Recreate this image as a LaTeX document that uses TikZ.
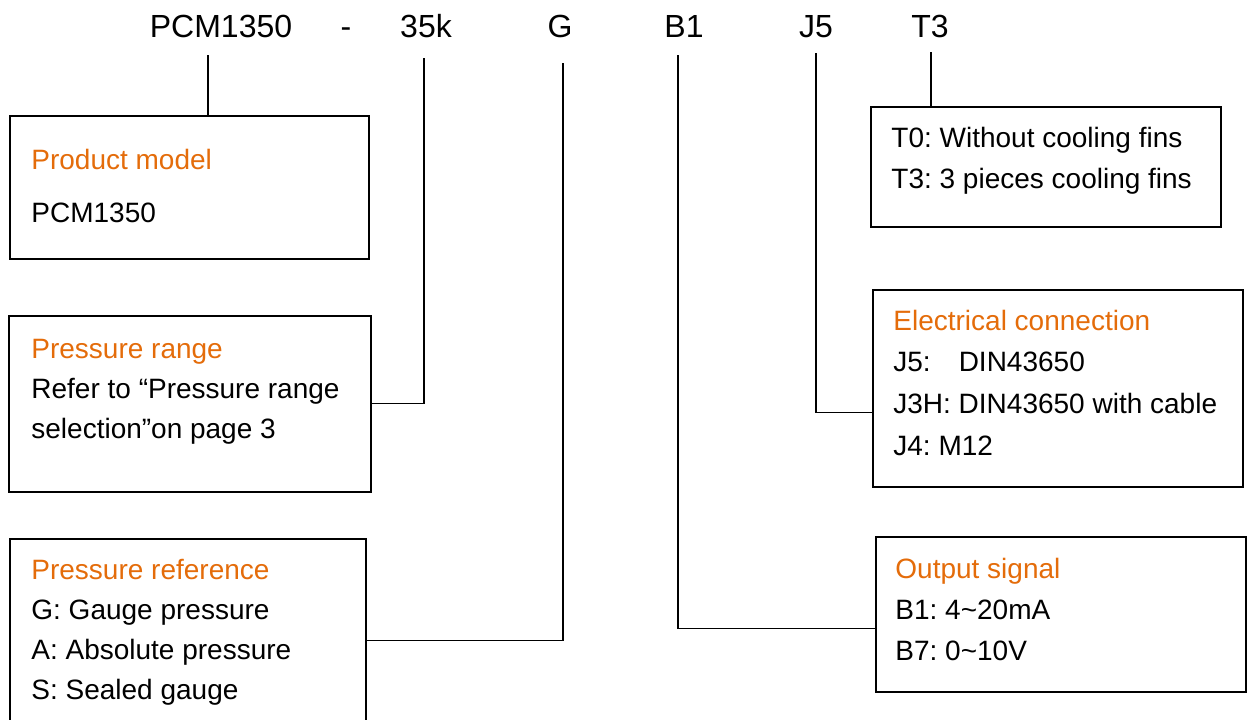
\documentclass[tikz,border=0pt]{standalone}
\usepackage{fontspec}
\setmainfont{Liberation Sans}
\frenchspacing
\usepackage{tikz}
\usetikzlibrary{calc,positioning}
\definecolor{titleorange}{RGB}{228,108,10}
\newcommand{\ttl}{\textcolor{titleorange}}
\tikzset{
  box/.style={draw,line width=0.75pt,rectangle,anchor=north west,inner sep=0pt},
  head/.style={anchor=base,inner sep=0pt,font=\fontsize{16pt}{19pt}\selectfont},
  txt/.style={anchor=base west,inner sep=0pt,align=left,font=\fontsize{14pt}{20pt}\selectfont},
  link/.style={line width=0.6pt}
}

\begin{document}
\begin{tikzpicture}[x=0.5pt,y=-0.5pt]
    \useasboundingbox (0,0) rectangle (1251,719);
    \clip (0,0) rectangle (1251,719);

    \node (hPCM) at (221,37) [head]{PCM1350};
    \node (hDash) at (346,37) [head]{-};
    \node (h35k) at (426,37) [head]{35k};
    \node (hG) at (560,37) [head]{G};
    \node (hB1) at (684,37) [head]{B1};
    \node (hJ5) at (816,37) [head]{J5};
    \node (hT3) at (930,37) [head]{T3};

    \coordinate (cPCM) at (208,55);
    \coordinate (c35k) at (424,58);
    \coordinate (cG) at (563,63);
    \coordinate (cB1) at (678,55);
    \coordinate (cJ5) at (816,53);
    \coordinate (cT3) at (931,52);

    % base of each text block = baseline of its last line
    \node (model) at (9,115) [box,minimum width=179.5pt,minimum height=71.5pt]{};
    \node (modeltxt) at (31,222) [txt]{
      \ttl{Product model}\\[6.5pt]
      PCM1350
    };

    \node (range) at (8,315) [box,minimum width=181pt,minimum height=88pt]{};
    \node (rangetxt) at (31,438) [txt]{
      \ttl{Pressure range}\\
      Refer to “Pressure range\\
      selection”on page 3
    };

    \node (ref) at (9,538) [box,minimum width=178pt,minimum height=102pt]{};
    \node (reftxt) at (31,699) [txt]{
      \ttl{Pressure reference}\\
      G: Gauge pressure\\
      A: Absolute pressure\\
      S: Sealed gauge
    };

    \node (fins) at (870,106) [box,minimum width=175pt,minimum height=60pt]{};
    \node (finstxt) at (891,188) [txt,font=\fontsize{14pt}{20.5pt}\selectfont]{
      T0: Without cooling fins\\
      T3: 3 pieces cooling fins
    };

    \node (conn) at (872,289) [box,minimum width=185pt,minimum height=98.5pt]{};
    \node (conntxt) at (893,455) [txt,font=\fontsize{14pt}{20.8pt}\selectfont]{
      \ttl{Electrical connection}\\
      J5: \hphantom{H}DIN43650\\
      J3H: DIN43650 with cable\\
      J4: M12
    };

    \node (out) at (875,536) [box,minimum width=185pt,minimum height=77.5pt]{};
    \node (outtxt) at (895,660) [txt,font=\fontsize{14pt}{20.5pt}\selectfont]{
      \ttl{Output signal}\\
      B1: 4\textasciitilde20mA\\
      B7: 0\textasciitilde10V
    };

    \draw[link] (cPCM) -- (cPCM |- model.north);
    \draw[link] (c35k) |- (range.east);
    \draw[link] (cG) |- (ref.east);
    \draw[link] (cB1) |- ([yshift=-7.25pt]out.west);
    \draw[link] (cJ5) |- ([yshift=-12.25pt]conn.west);
    \draw[link] (cT3) -- (cT3 |- fins.north);
  \end{tikzpicture}
\end{document}
